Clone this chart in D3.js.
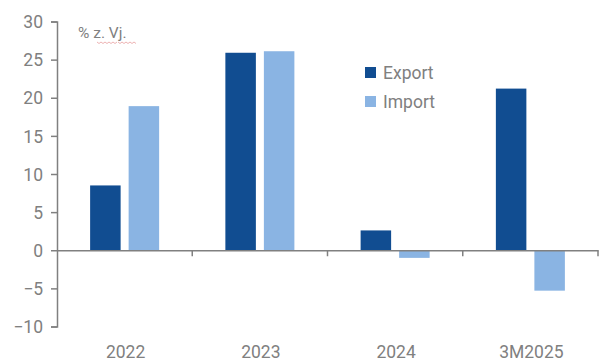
<!DOCTYPE html>
<html><head><meta charset="utf-8">
<script src="https://cdn.jsdelivr.net/npm/d3@7/dist/d3.min.js"></script>
<style>body{margin:0;background:#fff}svg{display:block}text{font-family:Roboto,"Noto Sans",sans-serif}</style>
</head><body><svg id="c" width="599" height="363"></svg>
<script>
const categories = ["2022","2023","2024","3M2025"];
const exportValues = [8.5, 25.9, 2.6, 21.2];
const importValues = [18.9, 26.1, -1.0, -5.3];
const seriesNames = ["Export","Import"];
const yTicks = [-10,-5,0,5,10,15,20,25,30];
const unitLabel = "% z. Vj.";
const colors = {Export:"#114D91", Import:"#8AB4E3"};

const svg = d3.select("#c");
const y = d3.scaleLinear().domain([-10,30]).range([326.5,21.5]);
const x = d3.scaleBand().domain(categories).range([57,598]).paddingInner(0).paddingOuter(0);
const gray = "#808080";

// y axis
const ya = svg.append("g").attr("transform","translate(57,0)")
  .call(d3.axisLeft(y).tickValues(yTicks).tickSize(6).tickFormat(d3.format("d")));
ya.select(".domain").attr("stroke",gray).attr("stroke-width",1.5);
ya.selectAll(".tick line").attr("stroke",gray).attr("stroke-width",1.5);
ya.selectAll(".tick text").attr("fill",gray).attr("font-size",17.5).attr("x",-14).attr("dy","0.35em");

// bars
const sub = d3.scaleBand().domain(seriesNames).range([0, x.bandwidth()]).paddingInner(0.208).paddingOuter(0.86);
const data = categories.map((c,i)=>({c, vals:[{k:"Export",v:exportValues[i]},{k:"Import",v:importValues[i]}]}));
svg.append("g").selectAll("g").data(data).join("g")
  .attr("transform",d=>`translate(${x(d.c)},0)`)
  .selectAll("rect").data(d=>d.vals).join("rect")
  .attr("x",d=>sub(d.k)).attr("width",sub.bandwidth())
  .attr("y",d=>y(Math.max(0,d.v))).attr("height",d=>Math.abs(y(d.v)-y(0)))
  .attr("fill",d=>colors[d.k]);

// x axis at zero
const xa = svg.append("g").attr("transform",`translate(0,${y(0)})`)
  .call(d3.axisBottom(x).tickSize(0).tickFormat(""));
xa.select(".domain").attr("stroke",gray).attr("stroke-width",1.5);
xa.selectAll(".tick").remove();
const bounds = categories.map(c=>x(c)+x.bandwidth());
svg.append("g").selectAll("line").data(bounds).join("line")
  .attr("x1",d=>d).attr("x2",d=>d).attr("y1",y(0)).attr("y2",y(0)+6)
  .attr("stroke",gray).attr("stroke-width",1.5);
svg.append("g").selectAll("text").data(categories).join("text")
  .attr("x",d=>x(d)+x.bandwidth()/2+1).attr("y",358)
  .attr("text-anchor","middle").attr("fill",gray).attr("font-size",17.5).text(d=>d);

// unit label
svg.append("text").attr("x",78).attr("y",38).attr("fill",gray).attr("font-size",15.5).text(unitLabel);
// spell-check squiggle
const sq = d3.path(); let sx=97; sq.moveTo(sx,42);
for(let i=0;i<10;i++){ sx+=2; sq.lineTo(sx, i%2?42:43.5); }
svg.append("path").attr("d",sq.toString()).attr("fill","none").attr("stroke","#e8a0a0").attr("stroke-width",0.8);
const sq2 = d3.path(); sx=118; sq2.moveTo(sx,42);
for(let i=0;i<9;i++){ sx+=2; sq2.lineTo(sx, i%2?42:43.5); }
svg.append("path").attr("d",sq2.toString()).attr("fill","none").attr("stroke","#e8a0a0").attr("stroke-width",0.8);

// legend
const lg = svg.append("g").selectAll("g").data(seriesNames).join("g")
  .attr("transform",(d,i)=>`translate(365,${67+i*29})`);
lg.append("rect").attr("width",11).attr("height",11).attr("fill",d=>colors[d]);
lg.append("text").attr("x",18).attr("y",11.5).attr("fill",gray).attr("font-size",17.5).text(d=>d);
</script></body></html>
